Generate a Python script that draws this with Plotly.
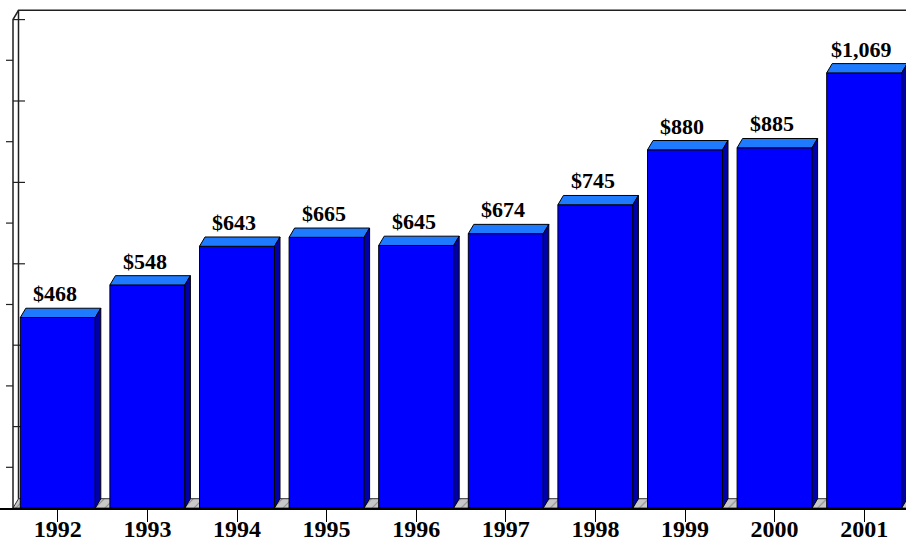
import plotly.graph_objects as go

years = ["1992", "1993", "1994", "1995", "1996", "1997", "1998", "1999", "2000", "2001"]
values = [468, 548, 643, 665, 645, 674, 745, 880, 885, 1069]
labels = ["$468", "$548", "$643", "$665", "$645", "$674", "$745", "$880", "$885", "$1,069"]
ytick_vals = [100, 200, 300, 400, 500, 600, 700, 800, 900, 1000, 1100, 1200]

W, H = 906, 543
ML, MR, MT, MB = 0, 0, 9, 35
cat_px = 89.6
x_left = -0.5 - 13 / cat_px
x_right = x_left + (W - ML - MR) / cat_px
y_top = 1226.0
ppu = (H - MT - MB) / y_top

bw = 0.837
dx = 5.5 / cat_px
dy = 9.3 / ppu

FRONT = "#0000FF"
TOP = "#1E7BFF"
SIDE = "#0000A8"

fig = go.Figure()

def poly(xs, ys, fill, lw=1, lc="black", **kw):
    fig.add_trace(go.Scatter(x=xs + [xs[0]], y=ys + [ys[0]], mode="lines", fill="toself",
                             fillcolor=fill, line=dict(color=lc, width=lw),
                             hoverinfo="skip", showlegend=False, **kw))

def line(xs, ys, lw=1.2, lc="black"):
    fig.add_trace(go.Scatter(x=xs, y=ys, mode="lines", line=dict(color=lc, width=lw),
                             hoverinfo="skip", showlegend=False))

# floor
floor_end = x_right + 0.2
poly([-0.5, -0.5 + dx, floor_end, floor_end], [0, dy, dy, 0], "#C0C0C0", lw=1, lc="#303030",
     fillpattern=dict(shape="/", bgcolor="#C8C8C8", fgcolor="#505050", size=7, solidity=0.15))

# walls
line([-0.5, -0.5, -0.5 + dx, floor_end], [0, 1200, 1200 + dy, 1200 + dy], lw=1.5, lc="#202020")
line([-0.5 + dx, -0.5 + dx], [dy, 1200 + dy], lw=1.5, lc="#202020")

# y ticks (alternating front / back)
tx_out0 = -0.5 - 7 / cat_px
tx_in1 = -0.5 + 12 / cat_px
xs, ys = [], []
for i, v in enumerate(ytick_vals):
    if i % 2 == 0:
        xs += [tx_out0, -0.5, None]
    else:
        xs += [-0.5, tx_in1, None]
    ys += [v, v, None]
line(xs, ys, lw=1.2, lc="#202020")

# bars
for i, v in enumerate(values):
    x0, x1 = i - bw / 2, i + bw / 2
    poly([x0, x1, x1, x0], [0, 0, v, v], FRONT)
    poly([x0, x1, x1 + dx, x0 + dx], [v, v, v + dy, v + dy], TOP)
    poly([x1, x1 + dx, x1 + dx, x1], [0, dy, v + dy, v], SIDE)

for i, (v, t) in enumerate(zip(values, labels)):
    fig.add_annotation(x=i - 0.03, y=v + dy, text=t, showarrow=False, yanchor="bottom", yshift=0,
                       font=dict(family="Liberation Serif", size=22, color="black", weight="bold"))

fig.update_layout(
    width=W, height=H, margin=dict(l=ML, r=MR, t=MT, b=MB, autoexpand=False),
    plot_bgcolor="white", paper_bgcolor="white",
    xaxis=dict(range=[x_left, x_right], tickvals=list(range(len(years))), ticktext=years,
               ticks="outside", ticklen=12, tickcolor="black", tickwidth=1.2, automargin=False,
               ticklabelstandoff=-14,
               showline=True, linecolor="black", linewidth=1.5, showgrid=False, zeroline=False,
               tickfont=dict(family="Liberation Serif", size=24, color="black", weight="bold")),
    yaxis=dict(range=[0, y_top], showticklabels=False, showgrid=False, zeroline=False, ticks="",
               automargin=False),
)

fig.write_html("out.html")
